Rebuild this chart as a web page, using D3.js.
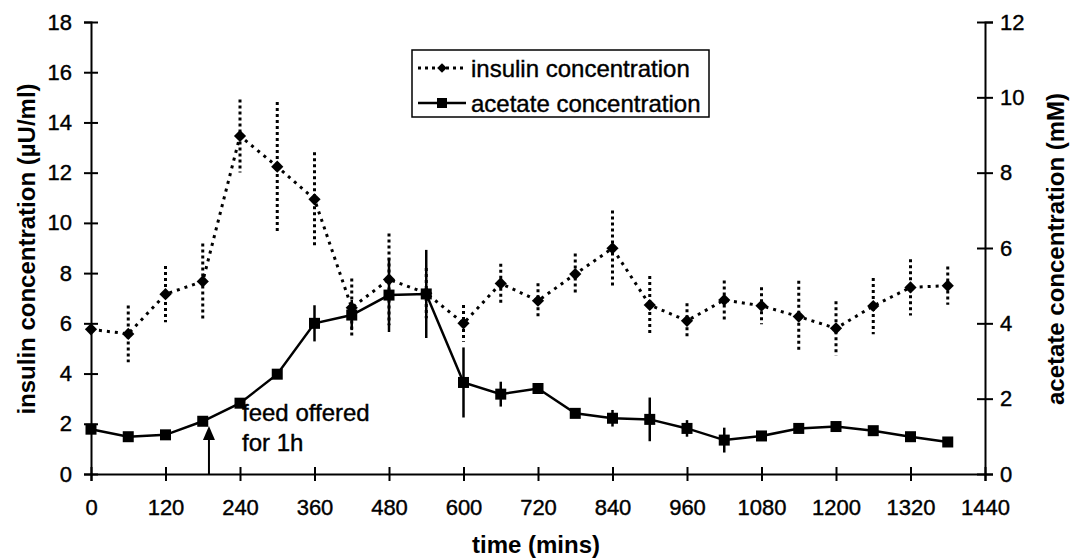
<!DOCTYPE html>
<html>
<head>
<meta charset="utf-8">
<script src="https://cdn.jsdelivr.net/npm/d3@7"></script>
<style>
  body { margin: 0; background: #fff; }
  text { font-family: "Liberation Sans", Arial, Helvetica, sans-serif; fill: #000; }
</style>
</head>
<body>
<script>
var w = 1073;
var h = 560;

// time points (mins)
var times = [0, 60, 120, 180, 240, 300, 360, 420, 480, 540, 600, 660, 720,
             780, 840, 900, 960, 1020, 1080, 1140, 1200, 1260, 1320, 1380];

// insulin (uU/ml), left axis
var insulin = [5.76, 5.58, 7.16, 7.67, 13.46, 12.24, 10.94, 6.62, 7.75, 7.2, 6.0, 7.59,
               6.9, 7.96, 8.99, 6.73, 6.1, 6.93, 6.7, 6.27, 5.8, 6.69, 7.43, 7.5];
var insulinErr = [0, 1.13, 1.12, 1.51, 1.45, 2.57, 1.87, 1.17, 1.83, 1.0, 0.73, 0.78,
                  0.7, 0.82, 1.5, 1.15, 0.7, 0.78, 0.74, 1.43, 1.08, 1.12, 1.12, 0.76];

// acetate (mM), right axis
var acetate = [1.19, 0.99, 1.04, 1.4, 1.88, 2.65, 4.0, 4.22, 4.75, 4.78, 2.43, 2.12,
               2.27, 1.61, 1.48, 1.45, 1.21, 0.9, 1.01, 1.21, 1.26, 1.15, 0.99, 0.85];
var acetateErr = [0, 0, 0, 0, 0.1, 0, 0.48, 0.4, 0.98, 1.17, 0.93, 0.33,
                  0, 0, 0.22, 0.58, 0.22, 0.33, 0, 0, 0.1, 0, 0, 0];

var xTicks = [0, 120, 240, 360, 480, 600, 720, 840, 960, 1080, 1200, 1320, 1440];
var leftTicks = [0, 2, 4, 6, 8, 10, 12, 14, 16, 18];
var rightTicks = [0, 2, 4, 6, 8, 10, 12];
var feedTime = 190;

var x = d3.scaleLinear().domain([0, 1440]).range([91, 985]);
var yL = d3.scaleLinear().domain([0, 18]).range([474, 22]);
var yR = d3.scaleLinear().domain([0, 12]).range([474, 22]);

var svg = d3.select("body").append("svg")
  .attr("width", w)
  .attr("height", h);

// axes, ticks cross the axis line
var gx = svg.append("g")
  .attr("transform", "translate(0,474)")
  .call(d3.axisBottom(x).tickValues(xTicks).tickSize(7).tickPadding(18).tickFormat(d3.format("d")));
gx.selectAll(".tick line").attr("y1", -7).attr("y2", 7);

var gl = svg.append("g")
  .attr("transform", "translate(91,0)")
  .call(d3.axisLeft(yL).tickValues(leftTicks).tickSize(7).tickPadding(12));
gl.selectAll(".tick line").attr("x1", -7).attr("x2", 7);

var gr = svg.append("g")
  .attr("transform", "translate(985,0)")
  .call(d3.axisRight(yR).tickValues(rightTicks).tickSize(8).tickPadding(7));
gr.selectAll(".tick line").attr("x1", -8).attr("x2", 8);

svg.selectAll(".domain").attr("stroke", "#000").attr("stroke-width", 2);
svg.selectAll(".tick line").attr("stroke", "#000").attr("stroke-width", 2);
svg.selectAll(".tick text")
  .attr("font-size", "22px")
  .attr("font-family", "Liberation Sans, Arial, sans-serif")
  .attr("fill", "#000")
  .attr("stroke", "#000")
  .attr("stroke-width", 0.4);

// axis titles
svg.append("text")
  .attr("transform", "translate(35,249) rotate(-90)")
  .attr("text-anchor", "middle")
  .attr("font-size", "24px")
  .attr("font-weight", "bold")
  .text("insulin concentration (µU/ml)");

svg.append("text")
  .attr("transform", "translate(1064,249) rotate(-90)")
  .attr("text-anchor", "middle")
  .attr("font-size", "24px")
  .attr("font-weight", "bold")
  .text("acetate concentration (mM)");

svg.append("text")
  .attr("x", 536)
  .attr("y", 553)
  .attr("text-anchor", "middle")
  .attr("font-size", "24px")
  .attr("font-weight", "bold")
  .text("time (mins)");

var ins = times.map(function(t, i){ return {t: t, v: insulin[i], e: insulinErr[i]}; });
var ace = times.map(function(t, i){ return {t: t, v: acetate[i], e: acetateErr[i]}; });

// insulin error bars (dotted)
svg.selectAll(".insErr")
  .data(ins.filter(function(d){ return d.e > 0; }))
  .enter()
  .append("line")
  .attr("class", "insErr")
  .attr("x1", function(d){ return x(d.t); })
  .attr("x2", function(d){ return x(d.t); })
  .attr("y1", function(d){ return yL(d.v + d.e); })
  .attr("y2", function(d){ return yL(d.v - d.e); })
  .attr("stroke", "#000")
  .attr("stroke-width", 3)
  .attr("stroke-dasharray", "3,3");

// acetate error bars (solid)
svg.selectAll(".aceErr")
  .data(ace.filter(function(d){ return d.e > 0; }))
  .enter()
  .append("line")
  .attr("class", "aceErr")
  .attr("x1", function(d){ return x(d.t); })
  .attr("x2", function(d){ return x(d.t); })
  .attr("y1", function(d){ return yR(d.v + d.e); })
  .attr("y2", function(d){ return yR(d.v - d.e); })
  .attr("stroke", "#000")
  .attr("stroke-width", 2.5);

// lines
var insLine = d3.line().x(function(d){ return x(d.t); }).y(function(d){ return yL(d.v); });
var aceLine = d3.line().x(function(d){ return x(d.t); }).y(function(d){ return yR(d.v); });

svg.append("path")
  .datum(ins)
  .attr("d", insLine)
  .attr("fill", "none")
  .attr("stroke", "#000")
  .attr("stroke-width", 3)
  .attr("stroke-dasharray", "3,5");

svg.append("path")
  .datum(ace)
  .attr("d", aceLine)
  .attr("fill", "none")
  .attr("stroke", "#000")
  .attr("stroke-width", 2.5);

// markers
var diamond = d3.symbol().type(d3.symbolDiamond2).size(95);
svg.selectAll(".insPt")
  .data(ins)
  .enter()
  .append("path")
  .attr("class", "insPt")
  .attr("d", diamond)
  .attr("transform", function(d){ return "translate(" + x(d.t) + "," + yL(d.v) + ")"; })
  .attr("fill", "#000");

svg.selectAll(".acePt")
  .data(ace)
  .enter()
  .append("rect")
  .attr("class", "acePt")
  .attr("x", function(d){ return x(d.t) - 5.5; })
  .attr("y", function(d){ return yR(d.v) - 5.5; })
  .attr("width", 11)
  .attr("height", 11)
  .attr("fill", "#000");

// feed annotation
var fx = x(feedTime);
svg.append("line")
  .attr("x1", fx).attr("x2", fx)
  .attr("y1", 474).attr("y2", 436)
  .attr("stroke", "#000")
  .attr("stroke-width", 2);
svg.append("path")
  .attr("d", "M" + fx + ",426 L" + (fx - 6) + ",440 L" + (fx + 6) + ",440 Z")
  .attr("fill", "#000");
svg.append("text")
  .attr("x", 242).attr("y", 421)
  .attr("font-size", "24px")
  .attr("stroke", "#000").attr("stroke-width", 0.4)
  .text("feed offered");
svg.append("text")
  .attr("x", 242).attr("y", 451)
  .attr("font-size", "24px")
  .attr("stroke", "#000").attr("stroke-width", 0.4)
  .text("for 1h");

// legend
var lg = svg.append("g");
lg.append("rect")
  .attr("x", 412).attr("y", 50)
  .attr("width", 297).attr("height", 67)
  .attr("fill", "#fff")
  .attr("stroke", "#000")
  .attr("stroke-width", 1.5);
lg.append("line")
  .attr("x1", 418).attr("x2", 466).attr("y1", 68).attr("y2", 68)
  .attr("stroke", "#000").attr("stroke-width", 3).attr("stroke-dasharray", "3,4");
lg.append("path")
  .attr("d", d3.symbol().type(d3.symbolDiamond2).size(60))
  .attr("transform", "translate(442,68)")
  .attr("fill", "#000");
lg.append("line")
  .attr("x1", 418).attr("x2", 466).attr("y1", 103).attr("y2", 103)
  .attr("stroke", "#000").attr("stroke-width", 2.5);
lg.append("rect")
  .attr("x", 437).attr("y", 98).attr("width", 10).attr("height", 10)
  .attr("fill", "#000");
lg.append("text")
  .attr("x", 471).attr("y", 77)
  .attr("font-size", "24px")
  .attr("stroke", "#000").attr("stroke-width", 0.4)
  .text("insulin concentration");
lg.append("text")
  .attr("x", 471).attr("y", 112)
  .attr("font-size", "24px")
  .attr("stroke", "#000").attr("stroke-width", 0.4)
  .text("acetate concentration");
</script>
</body>
</html>
